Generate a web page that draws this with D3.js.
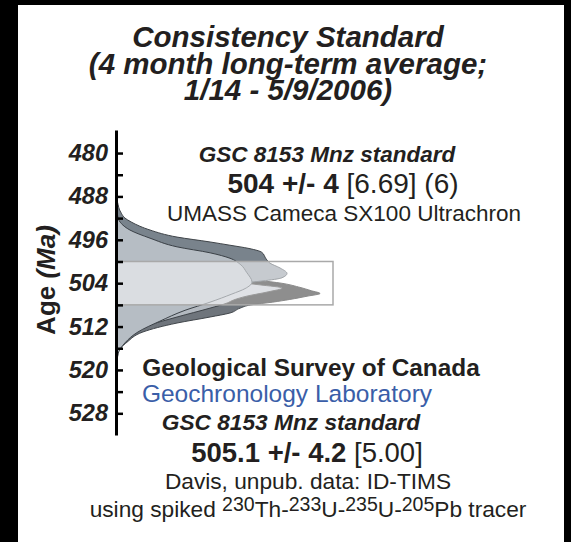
<!DOCTYPE html>
<html>
<head>
<meta charset="utf-8">
<script src="https://cdn.jsdelivr.net/npm/d3@7"></script>
<style>
  html, body { margin: 0; padding: 0; background: #000; }
  svg { display: block; }
  text { font-family: "Liberation Sans", Arial, sans-serif; fill: #231f20; }
</style>
</head>
<body>
<div id="chart"></div>
<script>
// age axis
var ageTicks = [480, 484, 488, 492, 496, 500, 504, 508, 512, 516, 520, 524, 528];
var ageLabels = [480, 488, 496, 504, 512, 520, 528];

// 504 +/- 4 band
var bandAge = [500, 508];

// relative probability: [age, density]
var empOuter = [[488.7,0],[489.5,0.005],[490.5,0.012],[491.1,0.02],[492,0.037],[492.7,0.065],[493.5,0.106],[494.2,0.153],
  [495.5,0.278],[496.4,0.431],[497,0.523],[497.6,0.611],[498.3,0.67],[499.5,0.69],[500.3,0.708],[501.2,0.755],
  [502.2,0.787],[503,0.764],[503.6,0.671],[504,0.569],[504.5,0.454],[505.5,0.315],[507,0.199],[509,0.106],
  [511,0.046],[513,0.014],[515,0]];
var empInner = [[490.5,0],[492,0.005],[493,0.02],[494.2,0.06],[495.7,0.153],[497.3,0.278],[498.4,0.431],[499.4,0.523],
  [500.5,0.57],[502,0.6],[503.8,0.625],[505,0.593],[506,0.532],[507.5,0.431],[509,0.315],
  [511,0.199],[513,0.097],[515,0.037],[517,0.005],[518.5,0]];
var timsOuter = [[491,0],[493,0.009],[495,0.028],[497,0.06],[499,0.14],[501,0.28],[502.5,0.45],[503.5,0.66],
  [504,0.76],[504.7,0.84],[505.4,0.9],[505.9,0.94],[506.4,0.88],[507,0.8],[507.5,0.72],[508,0.62],[508.6,0.57],
  [509.5,0.523],[510.24,0.431],[511.35,0.278],[513,0.12],[514.9,0.046],[516.7,0.005],[519.1,0]];
var timsInner = [[493,0],[495,0.014],[497,0.042],[499,0.09],[501,0.17],[502.5,0.3],[503.5,0.48],[504.3,0.66],
  [504.9,0.765],[505.6,0.7],[506.4,0.6],[507.1,0.54],[507.66,0.51],[508.6,0.431],[510.24,0.278],[511.7,0.153],
  [513.6,0.06],[515.4,0.005],[516.5,0]];

var W = 571, H = 542;

var svg = d3.select("#chart").append("svg")
  .attr("width", W)
  .attr("height", H);

// white page on black
svg.append("rect")
  .attr("x", 18).attr("y", 5)
  .attr("width", 546).attr("height", 537)
  .attr("fill", "#fff");

var y = d3.scaleLinear().domain([475.75, 532]).range([130, 435]);
var x = d3.scaleLinear().domain([0, 1]).range([117, 333]);

// clip regions: inside / outside the band box
var defs = svg.append("defs");
defs.append("clipPath").attr("id", "inBox")
  .append("rect")
  .attr("x", x(0)).attr("y", y(bandAge[0]))
  .attr("width", x(1) - x(0)).attr("height", y(bandAge[1]) - y(bandAge[0]));
var outClip = defs.append("clipPath").attr("id", "outBox");
outClip.append("rect").attr("x", 0).attr("y", 0).attr("width", W).attr("height", y(bandAge[0]));
outClip.append("rect").attr("x", 0).attr("y", y(bandAge[1])).attr("width", W).attr("height", H);

var area = d3.area()
  .y(function (d) { return y(d[0]); })
  .x0(x(0))
  .x1(function (d) { return x(d[1]); })
  .curve(d3.curveMonotoneY);

var shapes = [
  { data: timsOuter, out: "#6f757c", inn: "#8e8e8e", line: "#3f4449", lineIn: "#8a8a8a" },
  { data: timsInner, out: "#b3b9c0", inn: "#dfe1e5", line: "#3f4449", lineIn: "#9a9a9a" },
  { data: empOuter, out: "#79838c", inn: "#c6cacf", line: "#3f4449", lineIn: "#a0a4a8" },
  { data: empInner, out: "#b6bdc4", inn: "#dadde1", line: "#3a4046", lineIn: "#a4a8ac" }
];

var g = svg.append("g");
shapes.forEach(function (s) {
  g.append("path")
    .attr("d", area(s.data))
    .attr("clip-path", "url(#outBox)")
    .attr("fill", s.out)
    .attr("stroke", s.line)
    .attr("stroke-width", 1);
  g.append("path")
    .attr("d", area(s.data))
    .attr("clip-path", "url(#inBox)")
    .attr("fill", s.inn)
    .attr("stroke", s.lineIn)
    .attr("stroke-width", 1);
});

// band box
svg.append("rect")
  .attr("x", x(0)).attr("y", y(bandAge[0]))
  .attr("width", x(1) - x(0)).attr("height", y(bandAge[1]) - y(bandAge[0]))
  .attr("fill", "none")
  .attr("stroke", "#a9a9a9")
  .attr("stroke-width", 1.5);

// axis, ticks pointing inward
var axis = svg.append("g")
  .attr("transform", "translate(116,0)")
  .call(d3.axisLeft(y)
    .tickValues(ageTicks)
    .tickSize(-7)
    .tickSizeOuter(0)
    .tickPadding(8)
    .tickFormat(function (d) { return ageLabels.indexOf(d) >= 0 ? d : ""; }));
axis.select(".domain").attr("stroke", "#000").attr("stroke-width", 3);
axis.selectAll(".tick line").attr("stroke", "#000").attr("stroke-width", 2.5);
axis.selectAll(".tick text")
  .style("font-family", "Liberation Sans, Arial, sans-serif")
  .style("font-size", "23.5px")
  .style("font-weight", "bold")
  .style("font-style", "italic")
  .attr("fill", "#231f20");

var yl = svg.append("text")
  .attr("transform", "translate(55,280) rotate(-90)")
  .attr("text-anchor", "middle")
  .style("font-size", "26px")
  .style("font-weight", "bold");
yl.append("tspan").text("Age ");
yl.append("tspan").style("font-style", "italic").text("(Ma)");

// title
var titleLines = ["Consistency Standard", "(4 month long-term average;", "1/14 - 5/9/2006)"];
svg.selectAll(".title")
  .data(titleLines)
  .enter().append("text")
  .attr("class", "title")
  .attr("x", 288)
  .attr("y", function (d, i) { return 47 + i * 26.5; })
  .attr("text-anchor", "middle")
  .style("font-size", "29.5px")
  .style("font-weight", "bold")
  .style("font-style", "italic")
  .text(function (d) { return d; });

function label(xp, yp, size, parts, color) {
  var t = svg.append("text")
    .attr("x", xp).attr("y", yp)
    .attr("text-anchor", "middle")
    .style("font-size", size + "px");
  if (color) t.style("fill", color);
  parts.forEach(function (p) {
    var s = t.append("tspan").text(p.t);
    if (p.b) s.style("font-weight", "bold");
    if (p.i) s.style("font-style", "italic");
    if (p.sup) s.attr("dy", -6).style("font-size", (size * 0.86) + "px");
    if (p.down) s.attr("dy", 6);
  });
  return t;
}

// EMP block
label(327, 162, 22.5, [{ t: "GSC 8153 Mnz standard", b: 1, i: 1 }]);
label(343, 193, 28, [{ t: "504 +/- 4", b: 1 }, { t: " [6.69] (6)" }]);
label(344, 221, 22.5, [{ t: "UMASS Cameca SX100 Ultrachron" }]);

// TIMS block
label(311, 376, 24.4, [{ t: "Geological Survey of Canada", b: 1 }]);
label(287, 402, 24.5, [{ t: "Geochronology Laboratory" }], "#3a5ea8");
label(291, 430, 22.7, [{ t: "GSC 8153 Mnz standard", b: 1, i: 1 }]);
label(307, 462, 27.5, [{ t: "505.1 +/- 4.2", b: 1 }, { t: " [5.00]" }]);
label(308, 489, 22.7, [{ t: "Davis, unpub. data: ID-TIMS" }]);
label(308, 517, 22.7, [
  { t: "using spiked " }, { t: "230", sup: 1 }, { t: "Th-", down: 1 }, { t: "233", sup: 1 },
  { t: "U-", down: 1 }, { t: "235", sup: 1 }, { t: "U-", down: 1 }, { t: "205", sup: 1 },
  { t: "Pb tracer", down: 1 }
]);
</script>
</body>
</html>
